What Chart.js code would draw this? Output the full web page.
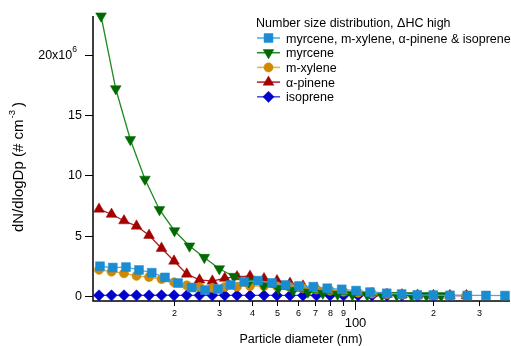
<!DOCTYPE html>
<html>
<head>
<meta charset="utf-8">
<script src="https://cdn.jsdelivr.net/npm/chart.js@4.4.0/dist/chart.umd.min.js"></script>
<style>
  html, body { margin: 0; padding: 0; background: #fff; overflow: hidden; }
  canvas { display: block; }
</style>
</head>
<body>
<canvas id="chart" width="511" height="346"></canvas>
<script>
// Particle diameters (nm) for each measurement set
const dpMixed = [10.4, 11.65, 13.1, 14.7, 16.46, 18.51, 20.78, 23.47, 26.4, 29.63, 33.11, 37.37, 42.25, 47.83, 54.01,
  60.78, 69.01, 78.1, 88.77, 100.8, 114.1, 132.3, 151.1, 173.6, 200.0, 231.9, 270.4, 319.2, 377.7];
const dpMyrcene = [10.5, 11.96, 13.61, 15.5, 17.63, 20.14, 23.01, 26.24, 29.97, 34.15, 38.94, 44.41, 50.63, 57.73,
  65.82, 75.07, 85.57, 97.59, 111.3, 126.9, 144.7, 165.0, 188.2, 214.5];
const dpSingle = [10.31, 11.52, 12.87, 14.38, 16.07, 17.95, 20.06, 22.45, 25.14, 28.17, 31.45, 35.06, 39.35, 44.56,
  50.0, 56.1, 62.97, 70.98, 80.0, 90.2, 102.6, 116.1, 132.6, 151.5, 173.9, 200.4, 231.9, 268.5];

// dN/dlogDp in units of 10^6 particles per cm^3
const mixed = [2.45, 2.34, 2.38, 2.14, 1.91, 1.52, 1.05, 0.68, 0.47, 0.55, 0.89, 1.16, 1.25, 1.06, 0.89,
  0.81, 0.75, 0.62, 0.53, 0.42, 0.3, 0.2, 0.14, 0.07, 0.05, 0.03, 0.02, 0.02, 0.01];
const myrcene = [23.25, 17.2, 12.98, 9.68, 7.15, 5.4, 4.13, 3.18, 2.24, 1.6, 1.15, 0.85, 0.6, 0.42,
  0.3, 0.2, 0.12, 0.08, 0.05, 0.03, 0.02, 0.01, 0.01, 0.0];
const mXylene = [2.15, 2.0, 1.86, 1.65, 1.55, 1.38, 1.12, 0.86, 0.72, 0.65, 0.72, 0.75, 0.8, 0.8,
  0.78, 0.72, 0.62, 0.52, 0.42, 0.33, 0.25, 0.18, 0.12, 0.08, 0.05, 0.03, 0.02, 0.01];
const aPinene = [7.2, 6.77, 6.23, 5.79, 5.02, 3.94, 2.88, 1.8, 1.31, 1.22, 1.45, 1.58, 1.62, 1.42,
  1.25, 1.03, 0.81, 0.62, 0.47, 0.33, 0.25, 0.18, 0.12, 0.08, 0.05, 0.03, 0.02, 0.01];
const isoprene = [0.03, 0.03, 0.04, 0.03, 0.03, 0.04, 0.03, 0.03, 0.03, 0.03, 0.03, 0.03, 0.02, 0.03,
  0.02, 0.02, 0.02, 0.02, 0.02, 0.02, 0.02, 0.01, 0.01, 0.01, 0.01, 0.01, 0.01, 0.01];

const seriesNames = ['myrcene, m-xylene, \u03b1-pinene & isoprene', 'myrcene', 'm-xylene', '\u03b1-pinene', 'isoprene'];
const legendTitle = 'Number size distribution, \u0394HC high';

// Axis ticks
const xTickValues = [20, 30, 40, 50, 60, 70, 80, 90, 100, 200, 300];
const xTickLabels = ['2', '3', '4', '5', '6', '7', '8', '9', '100', '2', '3'];
const xMajorValues = [100];
const yTickValues = [0, 5, 10, 15, 20];
const yTickLabels = ['0', '5', '10', '15', '20x10'];
const yTickExponent = '6';

const xTitle = 'Particle diameter (nm)';
const yTitleMain = 'dN/dlogDp (# cm';
const yTitleSup = '-3';
const yTitleEnd = ' )';

const FONT = '"Liberation Sans", Arial, Helvetica, sans-serif';

function pts(xs, ys) { return xs.map((v, i) => ({ x: v, y: ys[i] })); }

const styles = [
  { marker: '#1a8dd2', line: '#4aa8e2', pointStyle: 'rect', radius: 6.3, rotation: 0 },
  { marker: '#006a00', line: '#1f8a1f', pointStyle: 'triangle', radius: 6.2, rotation: 180 },
  { marker: '#cf8a00', line: '#e4b04c', pointStyle: 'circle', radius: 4.6, rotation: 0 },
  { marker: '#a30000', line: '#b31c1c', pointStyle: 'triangle', radius: 6.2, rotation: 0 },
  { marker: '#0000cc', line: '#4646e6', pointStyle: 'rectRot', radius: 5.6, rotation: 0 }
];
const seriesData = [pts(dpMixed, mixed), pts(dpMyrcene, myrcene), pts(dpSingle, mXylene), pts(dpSingle, aPinene), pts(dpSingle, isoprene)];

const datasets = seriesData.map((d, i) => ({
  label: seriesNames[i],
  data: d,
  showLine: true,
  borderColor: styles[i].line,
  borderWidth: 1.3,
  backgroundColor: styles[i].marker,
  pointBackgroundColor: styles[i].marker,
  pointBorderColor: styles[i].marker,
  pointBorderWidth: 0.5,
  pointStyle: styles[i].pointStyle,
  pointRadius: styles[i].radius,
  pointRotation: styles[i].rotation,
  tension: 0,
  clip: false
}));

// Axis frame, ticks and titles drawn from the chart's scales
const axesPlugin = {
  id: 'frameAxes',
  beforeDatasetsDraw(chart) {
    const { ctx, chartArea: a, scales: { x, y } } = chart;
    ctx.save();
    ctx.strokeStyle = '#000';
    ctx.fillStyle = '#000';
    ctx.lineWidth = 1.5;
    ctx.beginPath();
    ctx.moveTo(a.left, a.top);
    ctx.lineTo(a.left, a.bottom);
    ctx.lineTo(a.right, a.bottom);
    ctx.stroke();

    ctx.lineWidth = 1;
    // y ticks
    yTickValues.forEach((v, i) => {
      const py = Math.round(y.getPixelForValue(v)) + 0.5;
      ctx.beginPath(); ctx.moveTo(a.left - 8, py); ctx.lineTo(a.left, py); ctx.stroke();
      ctx.font = '12.5px ' + FONT;
      ctx.textBaseline = 'middle';
      ctx.textAlign = 'right';
      if (i === yTickLabels.length - 1) {
        ctx.font = '8.5px ' + FONT;
        const ew = ctx.measureText(yTickExponent).width;
        const right = a.left - 16;
        ctx.textAlign = 'left';
        ctx.fillText(yTickExponent, right - ew, py - 6);
        ctx.font = '12.5px ' + FONT;
        ctx.textAlign = 'right';
        ctx.fillText(yTickLabels[i], right - ew, py + 0.5);
      } else {
        ctx.fillText(yTickLabels[i], a.left - 11, py + 0.5);
      }
    });
    // x ticks
    xTickValues.forEach((v, i) => {
      const px = Math.round(x.getPixelForValue(v)) + 0.5;
      const major = xMajorValues.includes(v);
      ctx.beginPath(); ctx.moveTo(px, a.bottom); ctx.lineTo(px, a.bottom + (major ? 9 : 5)); ctx.stroke();
      ctx.textAlign = 'center';
      ctx.textBaseline = 'alphabetic';
      if (major) {
        ctx.font = '13px ' + FONT;
        ctx.fillText(xTickLabels[i], px, a.bottom + 26);
      } else {
        ctx.font = '9px ' + FONT;
        ctx.fillText(xTickLabels[i], px, a.bottom + 14.5);
      }
    });
    // x title
    ctx.font = '12.5px ' + FONT;
    ctx.textAlign = 'center';
    ctx.textBaseline = 'alphabetic';
    ctx.fillText(xTitle, 301, 343);
    // y title (rotated)
    ctx.translate(23, 167);
    ctx.rotate(-Math.PI / 2);
    ctx.font = '15px ' + FONT;
    const w1 = ctx.measureText(yTitleMain).width;
    ctx.font = '9.5px ' + FONT;
    const w2 = ctx.measureText(yTitleSup).width;
    ctx.font = '15px ' + FONT;
    const w3 = ctx.measureText(yTitleEnd).width;
    let sx = -(w1 + w2 + w3) / 2;
    ctx.textAlign = 'left';
    ctx.fillText(yTitleMain, sx, 0);
    ctx.font = '9.5px ' + FONT;
    ctx.fillText(yTitleSup, sx + w1 + 1, -8);
    ctx.font = '15px ' + FONT;
    ctx.fillText(yTitleEnd, sx + w1 + w2, 0);
    ctx.restore();
  },
  afterDraw(chart) {
    const { ctx } = chart;
    ctx.save();
    ctx.fillStyle = '#000';
    ctx.font = '12.5px ' + FONT;
    ctx.textAlign = 'left';
    ctx.textBaseline = 'alphabetic';
    ctx.fillText(legendTitle, 256, 27);
    chart.data.datasets.forEach((ds, i) => {
      const cy = 38 + i * 14.7;
      ctx.strokeStyle = ds.borderColor;
      ctx.lineWidth = 1.5;
      ctx.beginPath(); ctx.moveTo(257, cy); ctx.lineTo(280, cy); ctx.stroke();
      ctx.fillStyle = ds.pointBackgroundColor;
      ctx.strokeStyle = ds.pointBorderColor;
      ctx.lineWidth = 0.5;
      Chart.helpers.drawPoint(ctx, { pointStyle: ds.pointStyle, radius: ds.pointRadius, rotation: ds.pointRotation, borderWidth: 0.5 }, 268.5, cy);
      ctx.fillStyle = '#000';
      ctx.font = '12.5px ' + FONT;
      ctx.fillText(ds.label, 286, cy + 4.5);
    });
    ctx.restore();
  }
};

new Chart(document.getElementById('chart'), {
  type: 'scatter',
  data: { datasets },
  options: {
    responsive: false,
    animation: false,
    devicePixelRatio: 1,
    layout: { autoPadding: false, padding: { left: 93, right: 1, top: 16, bottom: 45 } },
    plugins: { legend: { display: false }, tooltip: { enabled: false } },
    scales: {
      x: { type: 'logarithmic', min: 9.775, max: 395, display: false },
      y: { type: 'linear', min: -0.44, max: 23.25, display: false }
    }
  },
  plugins: [axesPlugin]
});
</script>
</body>
</html>
